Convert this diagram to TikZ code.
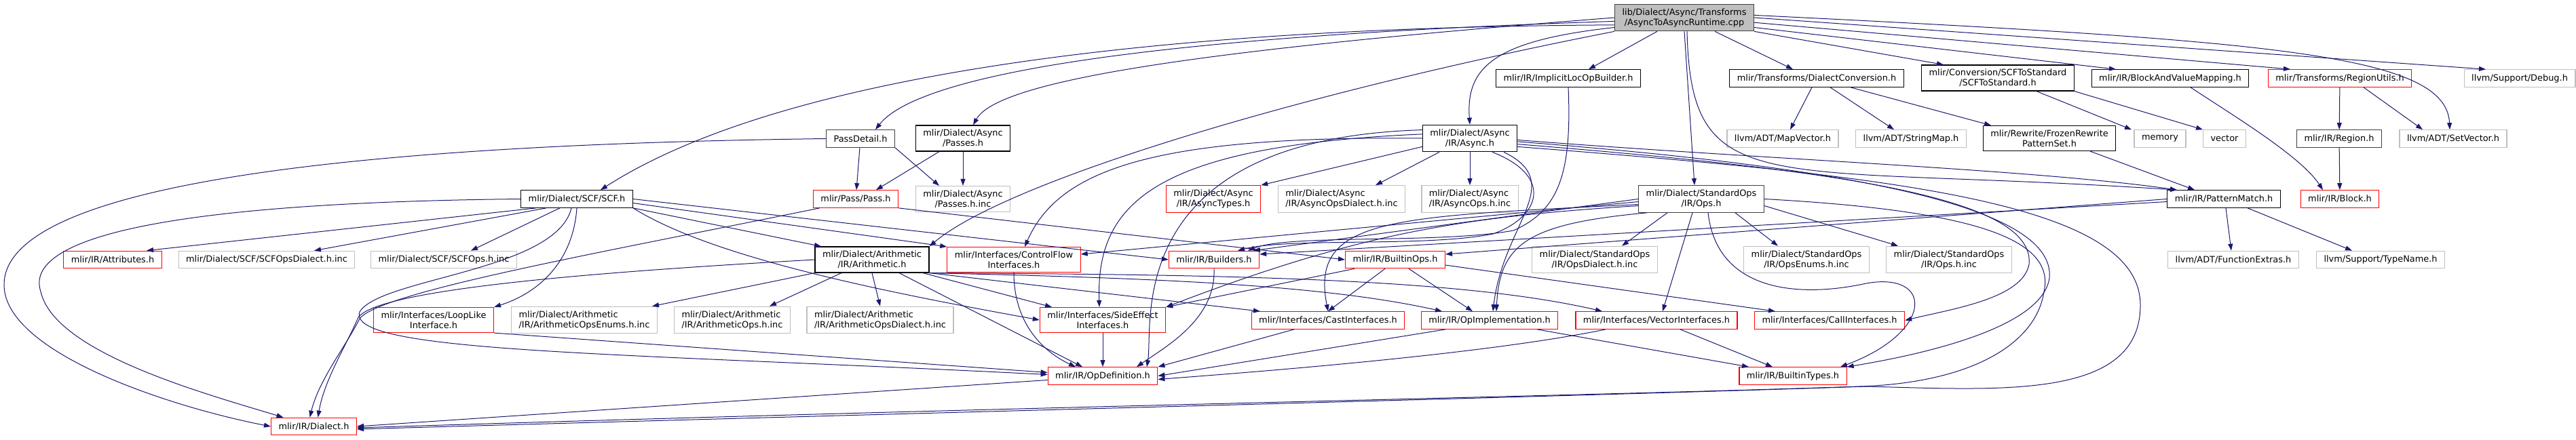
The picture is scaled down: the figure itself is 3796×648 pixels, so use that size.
\documentclass[tikz,border=0pt]{standalone}
\usepackage{fontspec}
\setmainfont{DejaVu Sans}
\usetikzlibrary{arrows.meta}
\definecolor{incblue}{HTML}{191970}
\definecolor{boxgray}{HTML}{BFBFBF}
\definecolor{boxdark}{HTML}{404040}
\tikzset{
  hdr/.style={draw=black, line width=1.2pt, fill=white, inner xsep=11pt, inner ysep=6pt,
    minimum height=25.5pt, align=center, font=\fontsize{12.9}{15}\selectfont},
  sys/.style={hdr, draw=boxgray},
  cut/.style={hdr, draw=red},
  dark/.style={hdr, draw=boxdark},
  inc/.style={draw=incblue, line width=1pt, -{Triangle[length=10pt,width=7pt]}}
}

\begin{document}
\begin{tikzpicture}[x=1pt, y=-1pt]
\useasboundingbox (0,0) rectangle (3796,648);

% source file
\node[dark, fill=boxgray] (root) at (2482,26) {lib/Dialect/Async/Transforms\\/AsyncToAsyncRuntime.cpp};

% first level
\node[hdr] (ilob) at (2311,115.5) {mlir/IR/ImplicitLocOpBuilder.h};
\node[hdr] (dc) at (2677,115.5) {mlir/Transforms/DialectConversion.h};
\node[hdr] (s2s) at (2944,115) {mlir/Conversion/SCFToStandard\\/SCFToStandard.h};
\node[hdr] (bvm) at (3198,115.5) {mlir/IR/BlockAndValueMapping.h};
\node[cut] (ru) at (3448,115.5) {mlir/Transforms/RegionUtils.h};
\node[sys] (debug) at (3713,115.5) {llvm/Support/Debug.h};

\node[dark] (pd) at (1268,204.5) {PassDetail.h};
\node[hdr] (ap) at (1419,204) {mlir/Dialect/Async\\/Passes.h};
\node[hdr] (async) at (2166,204) {mlir/Dialect/Async\\/IR/Async.h};
\node[sys] (mapvec) at (2627,204.5) {llvm/ADT/MapVector.h};
\node[sys] (strmap) at (2816,204.5) {llvm/ADT/StringMap.h};
\node[hdr] (frozen) at (3020,204) {mlir/Rewrite/FrozenRewrite\\PatternSet.h};
\node[sys] (memory) at (3183,204.5) {memory};
\node[sys] (vector) at (3278,204.5) {vector};
\node[dark] (region) at (3447,204.5) {mlir/IR/Region.h};
\node[sys] (setvec) at (3615,204.5) {llvm/ADT/SetVector.h};

\node[hdr] (scf) at (850,293.5) {mlir/Dialect/SCF/SCF.h};
\node[cut] (pass) at (1261,293.5) {mlir/Pass/Pass.h};
\node[sys] (passinc) at (1419,293.5) {mlir/Dialect/Async\\/Passes.h.inc};
\node[cut] (asynctypes) at (1788,293.5) {mlir/Dialect/Async\\/IR/AsyncTypes.h};
\node[sys, align=left] (asyncdialinc) at (1977,293.5) {mlir/Dialect/Async\\/IR/AsyncOpsDialect.h.inc};
\node[sys, align=left] (asyncopsinc) at (2166,293.5) {mlir/Dialect/Async\\/IR/AsyncOps.h.inc};
\node[dark] (stdops) at (2507,293.5) {mlir/Dialect/StandardOps\\/IR/Ops.h};
\node[hdr] (pm) at (3277,293.5) {mlir/IR/PatternMatch.h};
\node[cut] (block) at (3448,293.5) {mlir/IR/Block.h};

% deeper levels
\node[cut] (attr) at (166,383) {mlir/IR/Attributes.h};
\node[sys] (scfdialinc) at (393,383) {mlir/Dialect/SCF/SCFOpsDialect.h.inc};
\node[sys] (scfopsinc) at (654,383) {mlir/Dialect/SCF/SCFOps.h.inc};
\node[hdr] (arith) at (1285,383) {mlir/Dialect/Arithmetic\\/IR/Arithmetic.h};
\node[cut] (cfi) at (1494,383) {mlir/Interfaces/ControlFlow\\Interfaces.h};
\node[cut] (builders) at (1789,383) {mlir/IR/Builders.h};
\node[cut] (builtinops) at (2056,383) {mlir/IR/BuiltinOps.h};
\node[sys] (stddialinc) at (2350,383) {mlir/Dialect/StandardOps\\/IR/OpsDialect.h.inc};
\node[sys] (stdenumsinc) at (2662,383) {mlir/Dialect/StandardOps\\/IR/OpsEnums.h.inc};
\node[sys] (stdopsinc) at (2872,383) {mlir/Dialect/StandardOps\\/IR/Ops.h.inc};
\node[sys] (funcext) at (3291,383) {llvm/ADT/FunctionExtras.h};
\node[sys] (tname) at (3508,383) {llvm/Support/TypeName.h};

\node[cut] (looplike) at (639,472) {mlir/Interfaces/LoopLike\\Interface.h};
\node[sys, align=left] (arenumsinc) at (861,472) {mlir/Dialect/Arithmetic\\/IR/ArithmeticOpsEnums.h.inc};
\node[sys, align=left] (arithopsinc) at (1079,472) {mlir/Dialect/Arithmetic\\/IR/ArithmeticOps.h.inc};
\node[sys, align=left] (arithdialinc) at (1297,472) {mlir/Dialect/Arithmetic\\/IR/ArithmeticOpsDialect.h.inc};
\node[cut] (sideeff) at (1625,472) {mlir/Interfaces/SideEffect\\Interfaces.h};
\node[cut] (castif) at (1957,472.5) {mlir/Interfaces/CastInterfaces.h};
\node[cut] (opimpl) at (2195,472.5) {mlir/IR/OpImplementation.h};
\node[cut] (vecif) at (2441,472.5) {mlir/Interfaces/VectorInterfaces.h};
\node[cut] (callif) at (2696,472.5) {mlir/Interfaces/CallInterfaces.h};

\node[cut] (opdef) at (1625,554.5) {mlir/IR/OpDefinition.h};
\node[cut] (builtintypes) at (2642,554.5) {mlir/IR/BuiltinTypes.h};
\node[cut] (dialect) at (462.5,629) {mlir/IR/Dialect.h};

% includes of the source file
\draw[inc] (root.186) .. controls (1700,40) and (1150,110) .. ([xshift=35pt]scf.north);
\draw[inc] (root.183) .. controls (1650,55) and (1350,115) .. ([xshift=22pt]pd.north);
\draw[inc] (root.180) .. controls (1750,75) and (1470,120) .. ([xshift=15pt]ap.north);
\draw[inc] (root.south west) .. controls (1900,140) and (1480,270) .. (arith.north east);
\draw[inc] (root.188) .. controls (2200,60) and (2160,100) .. (async.north);
\draw[inc] ([xshift=-40pt]root.south) -- ([xshift=30pt]ilob.north);
\draw[inc] (root.south) -- ([xshift=-10pt]stdops.north);
\draw[inc] ([xshift=4pt]root.south) .. controls (2492,300) and (2600,240) .. ([xshift=-69pt]pm.north);
\draw[inc] ([xshift=45pt]root.south) -- ([xshift=-35pt]dc.north);
\draw[inc] (root.south east) -- ([xshift=-80pt]s2s.north);
\draw[inc] (root.352) -- ([xshift=-80pt]bvm.north);
\draw[inc] (root.356) -- ([xshift=-73pt]ru.north);
\draw[inc] (root.0) -- ([xshift=-50pt]debug.north);
\draw[inc] (root.2) .. controls (3350,60) and (3605,80) .. ([xshift=-5pt]setvec.north);

% pass headers
\draw[inc] (pd) -- (pass);
\draw[inc] (pd.south east) -- ([xshift=-35pt]passinc.north);
\draw[inc] (pd.west) .. controls (400,215) and (6,290) .. (6,420) .. controls (6,520) and (250,600) .. (dialect.west);
\draw[inc] ([xshift=-35pt]ap.south) -- ([xshift=30pt]pass.north);
\draw[inc] (ap) -- (passinc);
\draw[inc] ([xshift=10pt]pass.south west) .. controls (900,370) and (560,430) .. (530,470) .. controls (510,510) and (470,560) .. ([xshift=-6pt]dialect.north);
\draw[inc] (pass.south east) -- (builtinops.west);

% scf
\draw[inc] (scf.west) .. controls (150,300) and (40,370) .. (60,430) .. controls (80,520) and (300,580) .. ([xshift=-45pt]dialect.north);
\draw[inc] ([xshift=-60pt]scf.south) -- ([xshift=50pt]attr.north);
\draw[inc] ([xshift=-45pt]scf.south) -- ([xshift=70pt]scfdialinc.north);
\draw[inc] ([xshift=-25pt]scf.south) -- ([xshift=40pt]scfopsinc.north);
\draw[inc] (scf.south) .. controls (845,380) and (800,430) .. (looplike.north east);
\draw[inc] ([xshift=-8pt]scf.south) .. controls (820,400) and (560,410) .. (530,460) .. controls (510,520) and (900,520) .. ([yshift=2pt]opdef.west);
\draw[inc] (scf.south east) -- ([xshift=-75pt]arith.north);
\draw[inc] (scf.east) -- (builders.west);
\draw[inc] ([yshift=-6pt]scf.east) -- (cfi.north west);
\draw[inc] (scf.south east) .. controls (1050,380) and (1300,430) .. (sideeff.west);
\draw[inc] (looplike.south east) -- ([yshift=5pt]opdef.west);

% arithmetic
\draw[inc] (arith.west) .. controls (900,400) and (560,425) .. (528,468) .. controls (510,510) and (478,560) .. ([xshift=6pt]dialect.north);
\draw[inc] (arith.south west) -- ([xshift=100pt]arenumsinc.north);
\draw[inc] ([xshift=-45pt]arith.south) -- ([xshift=55pt]arithopsinc.north);
\draw[inc] (arith.south) -- (arithdialinc.north);
\draw[inc] ([xshift=40pt]arith.south) -- ([xshift=-30pt]opdef.north);
\draw[inc] ([xshift=75pt]arith.south) -- ([xshift=-75pt]sideeff.north);
\draw[inc] (arith.south east) -- ([xshift=-100pt]castif.north);
\draw[inc] (arith.south east) .. controls (1700,410) and (1950,420) .. ([xshift=-70pt]opimpl.north);
\draw[inc] (arith.south east) .. controls (1800,405) and (2150,410) .. ([xshift=-80pt]vecif.north);

% interfaces and builders
\draw[inc] (cfi.south) .. controls (1494,480) and (1540,520) .. ([xshift=-40pt]opdef.north);
\draw[inc] (builders.south) .. controls (1792,470) and (1720,510) .. ([xshift=50pt]opdef.north);
\draw[inc] ([xshift=-60pt]builtinops.south) -- (sideeff.north east);
\draw[inc] ([xshift=-15pt]builtinops.south) -- (castif.north);
\draw[inc] ([xshift=20pt]builtinops.south) -- ([xshift=-25pt]opimpl.north);
\draw[inc] ([yshift=-8pt]builtinops.east) -- ([xshift=-80pt]callif.north);
\draw[inc] (sideeff) -- (opdef);
\draw[inc] ([xshift=-50pt]castif.south) -- (opdef.north east);
\draw[inc] ([xshift=-65pt]opimpl.south) -- (opdef.east);
\draw[inc] ([xshift=-75pt]vecif.south) .. controls (2200,520) and (1900,545) .. ([yshift=-5pt]opdef.east);
\draw[inc] ([xshift=70pt]opimpl.south) -- ([xshift=-65pt]builtintypes.north);
\draw[inc] ([xshift=35pt]vecif.south) -- ([xshift=-30pt]builtintypes.north);
\draw[inc] ([yshift=-6pt]opdef.west) -- (dialect.east);

% async dialect
\draw[inc] (async.190) -- (asynctypes.north east);
\draw[inc] ([xshift=-45pt]async.south) -- ([xshift=50pt]asyncdialinc.north);
\draw[inc] (async) -- (asyncopsinc);
\draw[inc] (async.180) .. controls (1700,200) and (1560,250) .. ([xshift=16pt]cfi.north);
\draw[inc] (async.175) .. controls (1700,215) and (1615,300) .. ([xshift=-5pt]sideeff.north);
\draw[inc] (async.170) .. controls (1650,205) and (1700,480) .. ([xshift=65pt]opdef.north);
\draw[inc] ([xshift=33pt]async.south) .. controls (2290,260) and (2270,320) .. (2200,345) .. controls (2100,365) and (1900,350) .. ([xshift=35pt]builders.north);
\draw[inc] ([xshift=50pt]async.south) .. controls (2310,270) and (2215,330) .. ([xshift=5pt]opimpl.north);
\draw[inc] (async.358) .. controls (2600,235) and (3000,250) .. ([xshift=-69pt]pm.north);
\draw[inc] (async.353) .. controls (2700,250) and (3000,290) .. (2990,390) .. controls (2980,440) and (2880,455) .. (callif.east);
\draw[inc] (async.356) .. controls (2700,245) and (3030,300) .. (3020,410) .. controls (3010,480) and (2850,520) .. (builtintypes.north east);
\draw[inc] (async.350) .. controls (2800,260) and (3154,300) .. (3154,450) .. controls (3154,590) and (2950,575) .. (2750,570) .. controls (2300,585) and (1500,605) .. ([yshift=-4pt]dialect.east);

% standard ops
\draw[inc] ([xshift=-50pt]stdops.south) -- ([xshift=40pt]stddialinc.north);
\draw[inc] ([xshift=50pt]stdops.south) -- ([xshift=-42pt]stdenumsinc.north);
\draw[inc] ([yshift=-10pt]stdops.east) -- ([xshift=-75pt]stdopsinc.north);
\draw[inc] ([xshift=-13pt]stdops.south) -- ([xshift=9pt]vecif.north);
\draw[inc] ([xshift=10pt]stdops.south) .. controls (2530,430) and (2650,440) .. (2750,418) .. controls (2850,400) and (2850,490) .. ([xshift=70pt]builtintypes.north);
\draw[inc] (stdops.east) .. controls (2900,310) and (3030,350) .. (3012,430) .. controls (3000,510) and (2900,565) .. (2740,570) .. controls (2300,585) and (1500,600) .. ([yshift=-2pt]dialect.east);
\draw[inc] ([xshift=-80pt]stdops.south) .. controls (2250,330) and (2210,360) .. ([xshift=10pt]opimpl.north);
\draw[inc] (stdops.west) -- ([xshift=58pt]builders.north);
\draw[inc] ([yshift=-4pt]stdops.west) -- ([yshift=8pt]cfi.east);
\draw[inc] ([yshift=-10pt]stdops.west) .. controls (2150,320) and (2000,345) .. (sideeff.north east);
\draw[inc] ([yshift=-8pt]stdops.west) .. controls (2050,320) and (1930,320) .. (castif.north);

% builder used by the source file
\draw[inc] (ilob.south) .. controls (2316,250) and (2300,310) .. (2230,340) .. controls (2120,360) and (1900,345) .. ([xshift=50pt]builders.north);

% conversion and rewriting
\draw[inc] ([xshift=-7pt]dc.south) -- ([xshift=11pt]mapvec.north);
\draw[inc] ([xshift=20pt]dc.south) -- ([xshift=-25pt]strmap.north);
\draw[inc] ([xshift=50pt]dc.south) -- ([xshift=-86pt]frozen.north);
\draw[inc] ([xshift=57pt]s2s.south) -- ([xshift=-42pt]memory.north);
\draw[inc] (s2s.south east) -- ([xshift=-32pt]vector.north);
\draw[inc] ([xshift=60pt]frozen.south) -- ([xshift=-43pt]pm.north);
\draw[inc] ([xshift=3pt]pm.south) -- ([xshift=-3pt]funcext.north);
\draw[inc] ([xshift=35pt]pm.south) -- ([xshift=-42pt]tname.north);
\draw[inc] ([yshift=-4pt]pm.west) -- ([yshift=8pt]builders.east);
\draw[inc] (pm.west) -- ([yshift=8pt]builtinops.east);

% regions and blocks
\draw[inc] ([xshift=30pt]bvm.south) .. controls (3290,170) and (3390,230) .. ([xshift=-25pt]block.north);
\draw[inc] (ru) -- (region);
\draw[inc] ([xshift=35pt]ru.south) -- ([xshift=-45pt]setvec.north);
\draw[inc] (region) -- (block);
\end{tikzpicture}
\end{document}
